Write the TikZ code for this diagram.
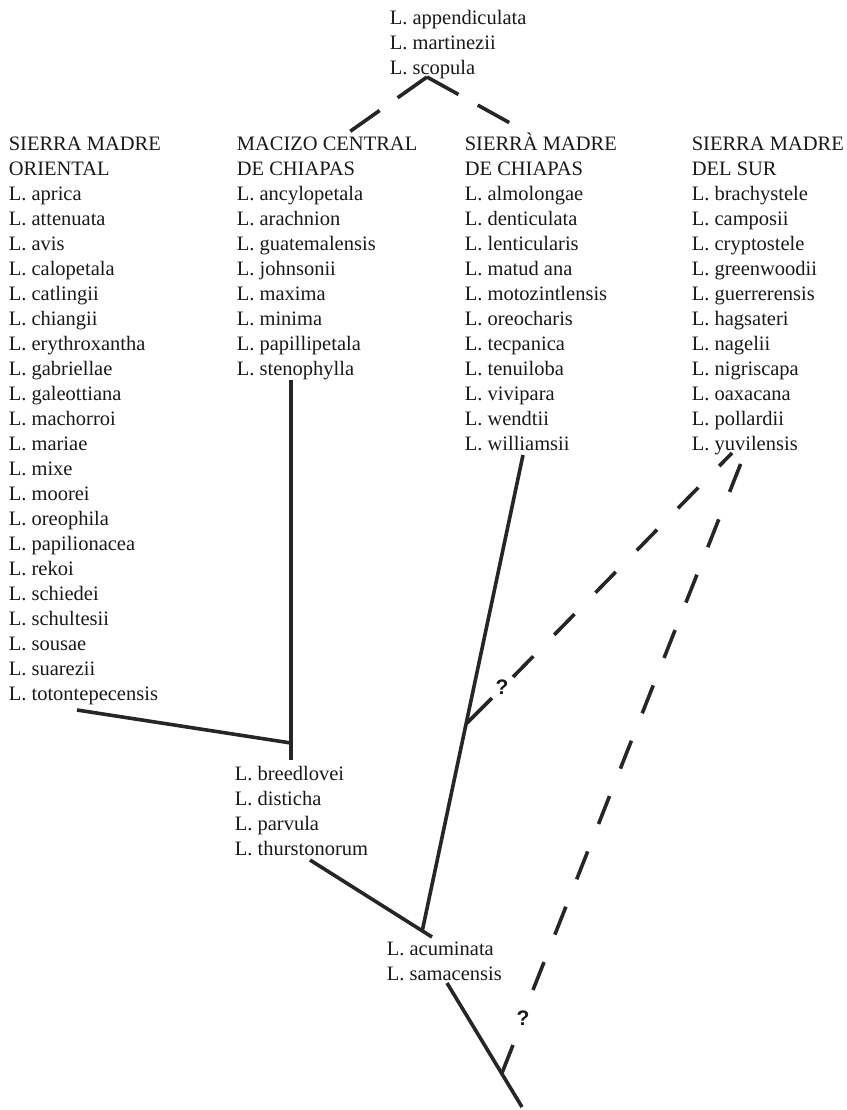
\documentclass[tikz,border=0pt]{standalone}
\usepackage{fontspec}
\setmainfont{Liberation Serif}
\setsansfont{Liberation Sans}
\usepackage{tikz}
\newcommand*{\taxfont}{\fontsize{20.5}{25}\selectfont}
\newcommand*{\queryfont}{\fontsize{21}{21}\sffamily\bfseries\selectfont}

\begin{document}
\begin{tikzpicture}[x=1pt, y=-1pt, line width=3.6pt, draw=black!85, text=black!90,
    every node/.style={anchor=north west, align=left, inner sep=0pt, font=\taxfont},
    toplink/.style={dash pattern=on 36pt off 22pt},
    uncertain/.style={dash pattern=on 30pt off 29.5pt},
    query/.style={anchor=center, font=\queryfont}]

    \useasboundingbox (0,0) rectangle (846,1110);

    \node (widespread) at (388,5.5) {\strut L. appendiculata\\L. martinezii\\L. scopula};

    \node (oriental) at (7,131) {\strut SIERRA MADRE\\ORIENTAL\\L. aprica\\L. attenuata\\L. avis\\L. calopetala\\L. catlingii\\L. chiangii\\L. erythroxantha\\L. gabriellae\\L. galeottiana\\L. machorroi\\L. mariae\\L. mixe\\L. moorei\\L. oreophila\\L. papilionacea\\L. rekoi\\L. schiedei\\L. schultesii\\L. sousae\\L. suarezii\\L. totontepecensis};
    \node (macizo) at (235,131) {\strut MACIZO CENTRAL\\DE CHIAPAS\\L. ancylopetala\\L. arachnion\\L. guatemalensis\\L. johnsonii\\L. maxima\\L. minima\\L. papillipetala\\L. stenophylla};
    \node (chiapas) at (463,131) {\strut SIERR\`A MADRE\\DE CHIAPAS\\L. almolongae\\L. denticulata\\L. lenticularis\\L. matud ana\\L. motozintlensis\\L. oreocharis\\L. tecpanica\\L. tenuiloba\\L. vivipara\\L. wendtii\\L. williamsii};
    \node (delsur) at (690,131) {\strut SIERRA MADRE\\DEL SUR\\L. brachystele\\L. camposii\\L. cryptostele\\L. greenwoodii\\L. guerrerensis\\L. hagsateri\\L. nagelii\\L. nigriscapa\\L. oaxacana\\L. pollardii\\L. yuvilensis};

    \node (breedlovei) at (233,761.5) {\strut L. breedlovei\\L. disticha\\L. parvula\\L. thurstonorum};
    \node (acuminata) at (385,936.5) {\strut L. acuminata\\L. samacensis};

    \node[query] (qsur) at (502,687) {?};
    \node[query] (qroot) at (523,1018) {?};

    \coordinate (scopula) at (427,77);
    \coordinate (macizo-top) at (345,135);
    \coordinate (chiapas-top) at (510,123);
    \coordinate (oriental-end) at (77,710);
    \coordinate (macizo-end) at (291,380);
    \coordinate (macizo-fork) at (291,743);
    \coordinate (macizo-base) at (291,760);
    \coordinate (thurst-end) at (310,860);
    \coordinate (thurst-fork) at (432,937);
    \coordinate (chiapas-end) at (523,455);
    \coordinate (chiapas-base) at (422,932);
    \coordinate (sur-fork) at (467,723);
    \coordinate (sur-tick) at (492,698);
    \coordinate (sur-dash) at (513,677);
    \coordinate (sur-end) at (732,453);
    \coordinate (samac-end) at (447,983);
    \coordinate (root) at (522,1107);
    \coordinate (root-fork) at (502,1073);
    \coordinate (root-tick) at (513,1045);
    \coordinate (root-dash) at (533,990);
    \coordinate (root-end) at (741,463);

    \draw[toplink] (scopula) -- (macizo-top);
    \draw[toplink] (scopula) -- (chiapas-top);

    \draw (oriental-end) -- (macizo-fork);
    \draw (macizo-end) -- (macizo-base);
    \draw (thurst-end) -- (thurst-fork);
    \draw (chiapas-end) -- (chiapas-base);
    \draw (samac-end) -- (root);

    \draw (sur-fork) -- (sur-tick);
    \draw[dash pattern=on 29pt off 30pt] (sur-dash) -- (sur-end);
    \draw (root-fork) -- (root-tick);
    \draw[uncertain] (root-dash) -- (root-end);

\end{tikzpicture}
\end{document}
